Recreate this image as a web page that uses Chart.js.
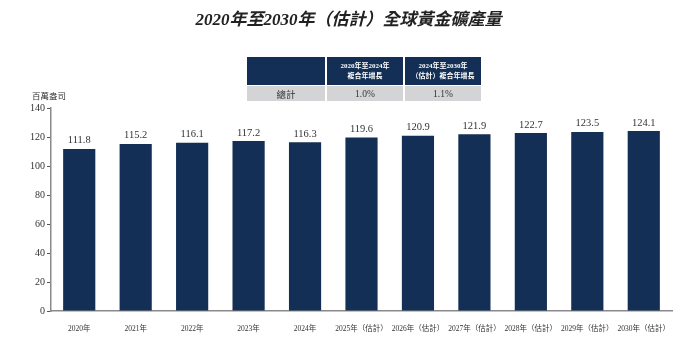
<!DOCTYPE html>
<html>
<head>
<meta charset="utf-8">
<script src="https://cdn.jsdelivr.net/npm/chart.js@4"></script>
<style>
    body { margin: 0; background: #fff; }
    #wrap { position: relative; width: 697px; height: 342px; }
    #title {
        position: absolute; left: 0; top: 5px; width: 697px; text-align: center;
        font-family: 'Liberation Serif', 'Noto Sans CJK TC', serif;
        font-size: 17px; font-weight: bold; font-style: italic; color: #222;
    }
    #unit {
        position: absolute; left: 32px; top: 89px;
        font-family: 'Noto Sans CJK TC', serif; font-size: 8.5px; color: #333;
    }
    #cagr {
        position: absolute; left: 245px; top: 56px; border-collapse: separate; border-spacing: 2px 1px;
        font-family: 'Liberation Serif', 'Noto Sans CJK TC', serif;
    }
    #cagr th {
        background: #142f55; color: #fff; font-size: 7px; font-weight: bold;
        height: 28px; padding: 0; line-height: 10px;
    }
    #cagr td {
        background: #d4d3d6; color: #333; font-size: 9.5px; text-align: center;
        height: 15px; padding: 0;
    }
    #cagr th:first-child, #cagr td:first-child { width: 78px; }
    #cagr th, #cagr td { width: 76px; }
</style>
</head>
<body>
<div id="wrap">
    <div id="title">2020年至2030年（估計）全球黃金礦產量</div>
    <div id="unit">百萬盎司</div>
    <table id="cagr">
        <tr>
            <th></th>
            <th>2020年至2024年<br>複合年增長</th>
            <th>2024年至2030年<br>（估計）複合年增長</th>
        </tr>
        <tr>
            <td>總計</td>
            <td>1.0%</td>
            <td>1.1%</td>
        </tr>
    </table>
    <canvas id="goldChart" width="697" height="342"></canvas>
</div>
<script>
const years = ['2020年', '2021年', '2022年', '2023年', '2024年', '2025年（估計）', '2026年（估計）',
    '2027年（估計）', '2028年（估計）', '2029年（估計）', '2030年（估計）'];
const production = [111.8, 115.2, 116.1, 117.2, 116.3, 119.6, 120.9, 121.9, 122.7, 123.5, 124.1];
const yTicks = [0, 20, 40, 60, 80, 100, 120, 140];

// value printed above each bar
const barValueLabels = {
    id: 'barValueLabels',
    afterDatasetsDraw(chart) {
        const { ctx } = chart;
        const meta = chart.getDatasetMeta(0);
        ctx.save();
        ctx.font = '10.5px "Liberation Serif", serif';
        ctx.fillStyle = '#333';
        ctx.textAlign = 'center';
        ctx.textBaseline = 'bottom';
        meta.data.forEach((bar, i) => {
            ctx.fillText(production[i].toFixed(1), bar.x, bar.y - 3);
        });
        ctx.restore();
    },
};

const ctx = document.getElementById('goldChart').getContext('2d');
new Chart(ctx, {
    type: 'bar',
    data: {
        labels: years,
        datasets: [
            {
                data: production,
                backgroundColor: '#142f55',
                categoryPercentage: 1,
                barPercentage: 0.57,
            },
        ],
    },
    options: {
        responsive: false,
        animation: false,
        layout: { padding: { top: 108, right: 25, bottom: 0, left: 0 } },
        plugins: { legend: { display: false }, tooltip: { enabled: false } },
        scales: {
            x: {
                grid: { display: false },
                border: { color: '#8a8a8a', width: 1.5 },
                ticks: {
                    color: '#333',
                    font: { family: '"Liberation Serif", "Noto Sans CJK TC", serif', size: 7.5 },
                    maxRotation: 0,
                    autoSkip: false,
                    padding: 6,
                },
                afterFit(scale) { scale.height = 31; },
            },
            y: {
                min: 0,
                max: 140,
                afterBuildTicks(scale) { scale.ticks = yTicks.map((v) => ({ value: v })); },
                grid: { drawOnChartArea: false, drawTicks: true, tickLength: 4, color: '#555' },
                border: { color: '#8a8a8a', width: 1.5 },
                ticks: {
                    color: '#333',
                    font: { family: '"Liberation Serif", serif', size: 10 },
                    padding: 2,
                },
                afterFit(scale) { scale.width = 51; },
            },
        },
    },
    plugins: [barValueLabels],
});
</script>
</body>
</html>
